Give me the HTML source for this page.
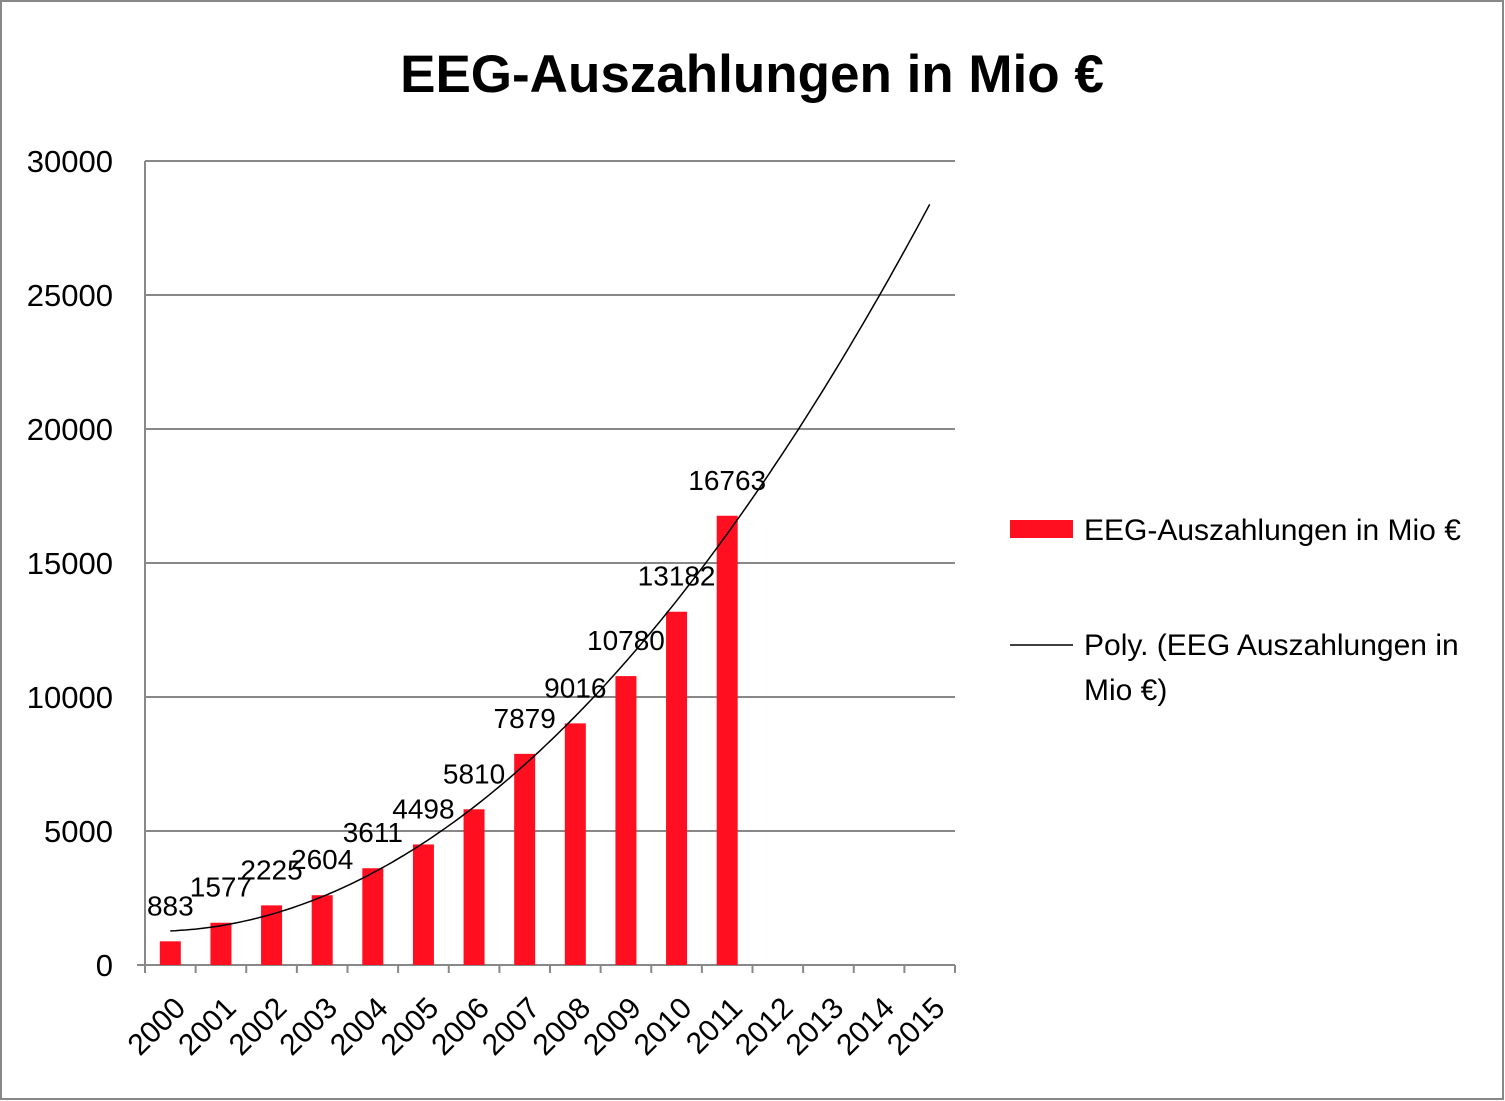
<!DOCTYPE html>
<html><head><meta charset="utf-8"><style>
html,body{margin:0;padding:0;background:#fff}
svg{display:block}
text{font-family:"Liberation Sans",sans-serif}
</style></head><body>
<svg id="chart" width="1505" height="1101">
<rect x="1" y="1" width="1502" height="1098" fill="#fff" stroke="#888" stroke-width="2"/>
<text x="752" y="92" text-anchor="middle" font-size="53" font-weight="bold">EEG-Auszahlungen in Mio €</text>
<g id="plot"></g>
<g>
<rect x="1010" y="520" width="63" height="18" fill="#ff0f1f"/>
<text x="1084" y="540" font-size="30">EEG-Auszahlungen in Mio €</text>
<line x1="1010" y1="645" x2="1073" y2="645" stroke="#000" stroke-width="1.5"/>
<text x="1084" y="655" font-size="30">Poly. (EEG Auszahlungen in</text>
<text x="1084" y="700" font-size="30">Mio €)</text>
</g>
</svg>
<script>
const categories=["2000","2001","2002","2003","2004","2005","2006","2007","2008","2009","2010","2011","2012","2013","2014","2015"];
const values=[883,1577,2225,2604,3611,4498,5810,7879,9016,10780,13182,16763];
const yTicks=[0,5000,10000,15000,20000,25000,30000];
const NS="http://www.w3.org/2000/svg";
const g=document.getElementById("plot");
const X0=145,X1=955,Y0=965,Y1=161,YMAX=30000;
const slot=(X1-X0)/categories.length;
const xC=i=>X0+slot*(i+0.5);
const y=v=>Y0-(v/YMAX)*(Y0-Y1);
function el(t,a){const e=document.createElementNS(NS,t);for(const k in a)e.setAttribute(k,a[k]);g.appendChild(e);return e;}
yTicks.forEach(t=>{
 if(t>0){const l=el("line",{x1:X0,x2:X1,y1:y(t),y2:y(t),stroke:"#888","stroke-width":2});
 
 }
 const tx=el("text",{x:113,y:y(t)+11,"text-anchor":"end","font-size":31});tx.textContent=t;
 
 
});
const ax=el("line",{x1:X0,x2:X0,y1:Y1,y2:Y0,stroke:"#888","stroke-width":2});


const xa=el("line",{x1:X0-8,x2:X1,y1:Y0,y2:Y0,stroke:"#888","stroke-width":2});


for(let i=0;i<=categories.length;i++){
 const t=el("line",{x1:X0+slot*i,x2:X0+slot*i,y1:Y0,y2:Y0+8,stroke:"#888","stroke-width":2});
 
 
}
categories.forEach((c,i)=>{
 const cx=xC(i)+2,cy=Y0+30;
 const t=el("text",{x:cx,y:cy,"text-anchor":"end","font-size":30,transform:`rotate(-45 ${cx} ${cy})`,dy:"0.7em"});
 t.textContent=c;
 
 
});
values.forEach((v,i)=>{
 const b=el("rect",{x:xC(i)-10.5,y:y(v),width:21,height:Y0-y(v),fill:"#ff0f1f"});
 
 
 const t=el("text",{x:xC(i),y:y(v)-26,"text-anchor":"middle","font-size":28});
 t.textContent=v;
 
 
});
(function(){
 let S=[0,0,0,0,0],T=[0,0,0];
 values.forEach((v,i)=>{const x=i;for(let k=0;k<5;k++)S[k]+=Math.pow(x,k);for(let k=0;k<3;k++)T[k]+=v*Math.pow(x,k);});
 const M=[[S[0],S[1],S[2],T[0]],[S[1],S[2],S[3],T[1]],[S[2],S[3],S[4],T[2]]];
 for(let i=0;i<3;i++){for(let j=i+1;j<3;j++){const f=M[j][i]/M[i][i];for(let k=i;k<4;k++)M[j][k]-=f*M[i][k];}}
 const c=[0,0,0];for(let i=2;i>=0;i--){let s=M[i][3];for(let k=i+1;k<3;k++)s-=M[i][k]*c[k];c[i]=s/M[i][i];}
 let d="";const last=categories.length-1;
 for(let x=0;x<=last+0.001;x+=0.1){const v=c[0]+c[1]*x+c[2]*x*x;d+=(d?"L":"M")+(X0+slot*(x+0.5)).toFixed(1)+","+y(v).toFixed(1);}
 const p=el("path",{d:d,fill:"none",stroke:"#000","stroke-width":1.5});
 
 
})();
</script>
</body></html>
